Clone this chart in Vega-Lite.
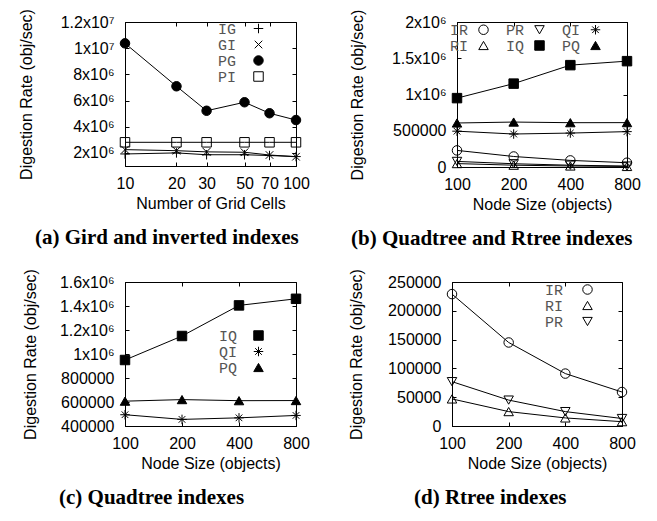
{
  "$schema": "https://vega.github.io/schema/vega-lite/v6.json",
  "padding": {"left": 17, "top": 8, "right": 0, "bottom": 0},
  "config": {
    "font": "Liberation Sans",
    "view": {"stroke": "black", "strokeWidth": 1},
    "axis": {
      "labelFont": "Liberation Sans", "labelFontSize": 16, "labelColor": "black",
      "titleFont": "Liberation Sans", "titleFontSize": 16, "titleFontWeight": "normal", "titleColor": "black",
      "domainColor": "black", "tickColor": "black", "grid": false, "tickSize": -4, "labelFlush": false, "labelOverlap": false
    },
    "axisX": {"labelPadding": 13, "titlePadding": 4},
    "axisY": {"labelPadding": 15, "titlePadding": 24},
    "legend": {
      "labelFont": "Liberation Mono", "labelFontSize": 15, "labelColor": "#555555", "padding": 0,
      "symbolStrokeColor": "black", "symbolStrokeWidth": 1, "symbolSize": 90, "labelAlign": "right", "orient": "none", "title": null
    },
    "title": {"font": "Liberation Serif", "fontSize": 21, "fontWeight": "bold", "color": "black", "orient": "bottom", "offset": 16, "anchor": "start", "frame": "group"}
  },
  "datasets": {
    "a": [
      {"x": 10, "y": 1920000, "series": "IG"}, {"x": 20, "y": 2000000, "series": "IG"}, {"x": 30, "y": 1860000, "series": "IG"}, {"x": 50, "y": 1860000, "series": "IG"}, {"x": 70, "y": 1800000, "series": "IG"}, {"x": 100, "y": 1720000, "series": "IG"},
      {"x": 10, "y": 2250000, "series": "GI"}, {"x": 20, "y": 2170000, "series": "GI"}, {"x": 30, "y": 2080000, "series": "GI"}, {"x": 50, "y": 2050000, "series": "GI"}, {"x": 70, "y": 1840000, "series": "GI"}, {"x": 100, "y": 1710000, "series": "GI"},
      {"x": 10, "y": 10370000, "series": "PG"}, {"x": 20, "y": 7090000, "series": "PG"}, {"x": 30, "y": 5220000, "series": "PG"}, {"x": 50, "y": 5870000, "series": "PG"}, {"x": 70, "y": 5030000, "series": "PG"}, {"x": 100, "y": 4510000, "series": "PG"},
      {"x": 10, "y": 2810000, "series": "PI"}, {"x": 20, "y": 2810000, "series": "PI"}, {"x": 30, "y": 2810000, "series": "PI"}, {"x": 50, "y": 2810000, "series": "PI"}, {"x": 70, "y": 2810000, "series": "PI"}, {"x": 100, "y": 2810000, "series": "PI"}
    ],
    "b": [
      {"x": 100, "y": 229000, "series": "IR"}, {"x": 200, "y": 145000, "series": "IR"}, {"x": 400, "y": 91000, "series": "IR"}, {"x": 800, "y": 59000, "series": "IR"},
      {"x": 100, "y": 47000, "series": "RI"}, {"x": 200, "y": 25000, "series": "RI"}, {"x": 400, "y": 14000, "series": "RI"}, {"x": 800, "y": 7500, "series": "RI"},
      {"x": 100, "y": 77000, "series": "PR"}, {"x": 200, "y": 45000, "series": "PR"}, {"x": 400, "y": 25000, "series": "PR"}, {"x": 800, "y": 13000, "series": "PR"},
      {"x": 100, "y": 950000, "series": "IQ"}, {"x": 200, "y": 1150000, "series": "IQ"}, {"x": 400, "y": 1405000, "series": "IQ"}, {"x": 800, "y": 1460000, "series": "IQ"},
      {"x": 100, "y": 494000, "series": "QI"}, {"x": 200, "y": 455000, "series": "QI"}, {"x": 400, "y": 468000, "series": "QI"}, {"x": 800, "y": 488000, "series": "QI"},
      {"x": 100, "y": 607000, "series": "PQ"}, {"x": 200, "y": 620000, "series": "PQ"}, {"x": 400, "y": 611000, "series": "PQ"}, {"x": 800, "y": 612000, "series": "PQ"}
    ]
  },
  "resolve": {"scale": {"shape": "independent", "fill": "independent", "stroke": "independent"}, "legend": {"shape": "independent", "fill": "independent", "stroke": "independent"}},
  "vconcat": [
    {
      "resolve": {"scale": {"shape": "independent", "fill": "independent", "stroke": "independent"}, "legend": {"shape": "independent", "fill": "independent", "stroke": "independent"}},
      "hconcat": [
        {
          "width": 171, "height": 144,
          "title": {"text": "(a) Gird and inverted indexes", "dx": -90},
          "data": {"name": "a"},
          "layer": [
            {
              "mark": {"type": "line", "color": "black", "strokeWidth": 1},
              "encoding": {
                "x": {"field": "x", "type": "quantitative", "scale": {"type": "log", "domain": [10, 100], "nice": false}, "axis": {"values": [10, 20, 30, 50, 70, 100], "format": "d", "title": "Number of Grid Cells"}},
                "y": {"field": "y", "type": "quantitative", "scale": {"domain": [1000000, 12000000], "nice": false, "zero": false}, "axis": {"values": [2000000, 4000000, 6000000, 8000000, 10000000, 12000000], "labelExpr": "datum.value >= 10000000 ? (datum.value / 10000000) + 'x10⁷' : (datum.value / 1000000) + 'x10⁶'", "title": "Digestion Rate (obj/sec)", "titlePadding": 26}},
                "detail": {"field": "series"}
              }
            },
            {
              "mark": {"type": "point", "strokeWidth": 1, "size": 90, "opacity": 1},
              "encoding": {
                "x": {"field": "x", "type": "quantitative", "axis": null},
                "y": {"field": "y", "type": "quantitative", "axis": null},
                "shape": {"field": "series", "type": "nominal", "scale": {"domain": ["IG", "GI", "PG", "PI"], "range": ["M-1,0L1,0M0,-1L0,1", "M-0.8,-0.8L0.8,0.8M-0.8,0.8L0.8,-0.8", "circle", "square"]}, "legend": {"legendX": 126, "legendY": -1, "labelOffset": -30, "rowPadding": -3.5}},
                "fill": {"field": "series", "type": "nominal", "scale": {"domain": ["IG", "GI", "PG", "PI"], "range": ["transparent", "transparent", "black", "transparent"]}, "legend": {"legendX": 126, "legendY": -1, "labelOffset": -30, "rowPadding": -3.5}},
                "stroke": {"field": "series", "type": "nominal", "scale": {"domain": ["IG", "GI", "PG", "PI"], "range": ["black", "black", "black", "black"]}, "legend": {"legendX": 126, "legendY": -1, "labelOffset": -30, "rowPadding": -3.5}}
              }
            },
            {
              "mark": {"type": "point", "opacity": 0},
              "encoding": {
                "x": {"field": "x", "type": "quantitative", "axis": {"orient": "top", "values": [10, 20, 30, 50, 70, 100], "labels": false, "title": null, "domain": false}},
                "y": {"field": "y", "type": "quantitative", "axis": {"orient": "right", "values": [2000000, 4000000, 6000000, 8000000, 10000000, 12000000], "labels": false, "title": null, "domain": false}}
              }
            }
          ],
          "resolve": {"axis": {"x": "independent", "y": "independent"}}
        },
        {
          "width": 170, "height": 145,
          "title": {"text": "(b) Quadtree and Rtree indexes", "dx": -106},
          "data": {"name": "b"},
          "layer": [
            {
              "mark": {"type": "line", "color": "black", "strokeWidth": 1},
              "encoding": {
                "x": {"field": "x", "type": "quantitative", "scale": {"type": "log", "base": 2, "domain": [100, 800], "nice": false}, "axis": {"values": [100, 200, 400, 800], "format": "d", "title": "Node Size (objects)"}},
                "y": {"field": "y", "type": "quantitative", "scale": {"domain": [0, 2000000], "nice": false}, "axis": {"values": [0, 500000, 1000000, 1500000, 2000000], "labelExpr": "datum.value >= 1000000 ? (datum.value / 1000000) + 'x10⁶' : '' + datum.value", "title": "Digestion Rate (obj/sec)", "titlePadding": 26}},
                "detail": {"field": "series"}
              }
            },
            {
              "mark": {"type": "point", "strokeWidth": 1, "size": 90, "opacity": 1},
              "encoding": {
                "x": {"field": "x", "type": "quantitative", "axis": null},
                "y": {"field": "y", "type": "quantitative", "axis": null},
                "shape": {"field": "series", "type": "nominal", "scale": {"domain": ["IR", "RI", "PR", "IQ", "QI", "PQ"], "range": ["circle", "triangle-up", "triangle-down", "square", "M-1,0L1,0M0,-1L0,1M-0.7,-0.7L0.7,0.7M-0.7,0.7L0.7,-0.7", "triangle-up"]}, "legend": {"legendX": 19, "legendY": 0, "labelOffset": -23, "columns": 3, "columnPadding": 14, "rowPadding": -2.5}},
                "fill": {"field": "series", "type": "nominal", "scale": {"domain": ["IR", "RI", "PR", "IQ", "QI", "PQ"], "range": ["transparent", "transparent", "transparent", "black", "transparent", "black"]}, "legend": {"legendX": 19, "legendY": 0, "labelOffset": -23, "columns": 3, "columnPadding": 14, "rowPadding": -2.5}},
                "stroke": {"field": "series", "type": "nominal", "scale": {"domain": ["IR", "RI", "PR", "IQ", "QI", "PQ"], "range": ["black", "black", "black", "black", "black", "black"]}, "legend": {"legendX": 19, "legendY": 0, "labelOffset": -23, "columns": 3, "columnPadding": 14, "rowPadding": -2.5}}
              }
            },
            {
              "mark": {"type": "point", "opacity": 0},
              "encoding": {
                "x": {"field": "x", "type": "quantitative", "axis": {"orient": "top", "values": [100, 200, 400, 800], "labels": false, "title": null, "domain": false}},
                "y": {"field": "y", "type": "quantitative", "axis": {"orient": "right", "values": [0, 500000, 1000000, 1500000, 2000000], "labels": false, "title": null, "domain": false}}
              }
            }
          ],
          "resolve": {"axis": {"x": "independent", "y": "independent"}}
        }
      ],
      "spacing": 38
    },
    {
      "resolve": {"scale": {"shape": "independent", "fill": "independent", "stroke": "independent"}, "legend": {"shape": "independent", "fill": "independent", "stroke": "independent"}},
      "hconcat": [
        {
          "width": 171, "height": 144,
          "title": {"text": "(c) Quadtree indexes", "dx": -66},
          "data": {"name": "b"},
          "transform": [{"filter": "datum.series == 'IQ' || datum.series == 'QI' || datum.series == 'PQ'"}],
          "layer": [
            {
              "mark": {"type": "line", "color": "black", "strokeWidth": 1},
              "encoding": {
                "x": {"field": "x", "type": "quantitative", "scale": {"type": "log", "base": 2, "domain": [100, 800], "nice": false}, "axis": {"values": [100, 200, 400, 800], "format": "d", "title": "Node Size (objects)"}},
                "y": {"field": "y", "type": "quantitative", "scale": {"domain": [400000, 1600000], "nice": false, "zero": false}, "axis": {"values": [400000, 600000, 800000, 1000000, 1200000, 1400000, 1600000], "labelExpr": "datum.value >= 1000000 ? (datum.value / 1000000) + 'x10⁶' : '' + datum.value", "title": "Digestion Rate (obj/sec)", "titlePadding": 21}},
                "detail": {"field": "series"}
              }
            },
            {
              "mark": {"type": "point", "strokeWidth": 1, "size": 90, "opacity": 1},
              "encoding": {
                "x": {"field": "x", "type": "quantitative", "axis": null},
                "y": {"field": "y", "type": "quantitative", "axis": null},
                "shape": {"field": "series", "type": "nominal", "scale": {"domain": ["IQ", "QI", "PQ"], "range": ["square", "M-1,0L1,0M0,-1L0,1M-0.7,-0.7L0.7,0.7M-0.7,0.7L0.7,-0.7", "triangle-up"]}, "legend": {"legendX": 126, "legendY": 46, "labelOffset": -29, "rowPadding": -1.5}},
                "fill": {"field": "series", "type": "nominal", "scale": {"domain": ["IQ", "QI", "PQ"], "range": ["black", "transparent", "black"]}, "legend": {"legendX": 126, "legendY": 46, "labelOffset": -29, "rowPadding": -1.5}},
                "stroke": {"field": "series", "type": "nominal", "scale": {"domain": ["IQ", "QI", "PQ"], "range": ["black", "black", "black"]}, "legend": {"legendX": 126, "legendY": 46, "labelOffset": -29, "rowPadding": -1.5}}
              }
            },
            {
              "mark": {"type": "point", "opacity": 0},
              "encoding": {
                "x": {"field": "x", "type": "quantitative", "axis": {"orient": "top", "values": [100, 200, 400, 800], "labels": false, "title": null, "domain": false}},
                "y": {"field": "y", "type": "quantitative", "axis": {"orient": "right", "values": [400000, 600000, 800000, 1000000, 1200000, 1400000, 1600000], "labels": false, "title": null, "domain": false}}
              }
            }
          ],
          "resolve": {"axis": {"x": "independent", "y": "independent"}}
        },
        {
          "width": 170, "height": 144,
          "title": {"text": "(d) Rtree indexes", "dx": -38},
          "data": {"name": "b"},
          "transform": [{"filter": "datum.series == 'IR' || datum.series == 'RI' || datum.series == 'PR'"}],
          "layer": [
            {
              "mark": {"type": "line", "color": "black", "strokeWidth": 1},
              "encoding": {
                "x": {"field": "x", "type": "quantitative", "scale": {"type": "log", "base": 2, "domain": [100, 800], "nice": false}, "axis": {"values": [100, 200, 400, 800], "format": "d", "title": "Node Size (objects)"}},
                "y": {"field": "y", "type": "quantitative", "scale": {"domain": [0, 250000], "nice": false}, "axis": {"values": [0, 50000, 100000, 150000, 200000, 250000], "format": "d", "title": "Digestion Rate (obj/sec)", "titlePadding": 23}},
                "detail": {"field": "series"}
              }
            },
            {
              "mark": {"type": "point", "strokeWidth": 1, "size": 90, "opacity": 1},
              "encoding": {
                "x": {"field": "x", "type": "quantitative", "axis": null},
                "y": {"field": "y", "type": "quantitative", "axis": null},
                "shape": {"field": "series", "type": "nominal", "scale": {"domain": ["IR", "RI", "PR"], "range": ["circle", "triangle-up", "triangle-down"]}, "legend": {"legendX": 128, "legendY": 0, "labelOffset": -32, "rowPadding": -2}},
                "fill": {"field": "series", "type": "nominal", "scale": {"domain": ["IR", "RI", "PR"], "range": ["transparent", "transparent", "transparent"]}, "legend": {"legendX": 128, "legendY": 0, "labelOffset": -32, "rowPadding": -2}},
                "stroke": {"field": "series", "type": "nominal", "scale": {"domain": ["IR", "RI", "PR"], "range": ["black", "black", "black"]}, "legend": {"legendX": 128, "legendY": 0, "labelOffset": -32, "rowPadding": -2}}
              }
            },
            {
              "mark": {"type": "point", "opacity": 0},
              "encoding": {
                "x": {"field": "x", "type": "quantitative", "axis": {"orient": "top", "values": [100, 200, 400, 800], "labels": false, "title": null, "domain": false}},
                "y": {"field": "y", "type": "quantitative", "axis": {"orient": "right", "values": [0, 50000, 100000, 150000, 200000, 250000], "labels": false, "title": null, "domain": false}}
              }
            }
          ],
          "resolve": {"axis": {"x": "independent", "y": "independent"}}
        }
      ],
      "spacing": 38
    }
  ],
  "spacing": 18
}
